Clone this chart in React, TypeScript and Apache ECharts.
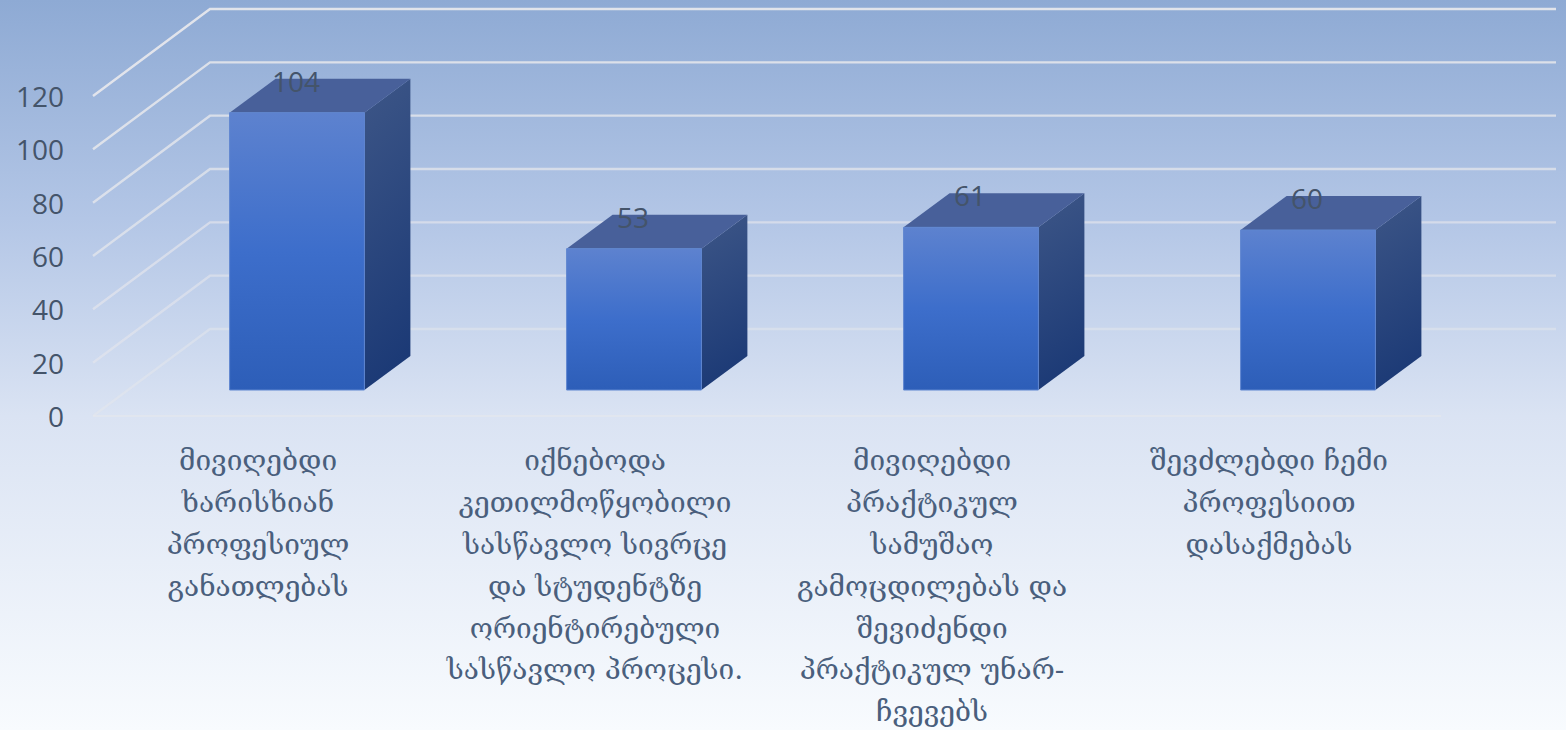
import React, { useEffect, useRef } from "react";
import * as echarts from "echarts";

const categories = [
  "მივიღებდი\nხარისხიან\nპროფესიულ\nგანათლებას",
  "იქნებოდა\nკეთილმოწყობილი\nსასწავლო სივრცე\nდა სტუდენტზე\nორიენტირებული\nსასწავლო პროცესი.",
  "მივიღებდი\nპრაქტიკულ\nსამუშაო\nგამოცდილებას და\nშევიძენდი\nპრაქტიკულ უნარ-\nჩვევებს",
  "შევძლებდი ჩემი\nპროფესიით\nდასაქმებას",
];
const values = [104, 53, 61, 60];
const gridValues = [0, 20, 40, 60, 80, 100, 120];

const TEXT = "#44546a";
const DEPTH_X = 46;
const DEPTH_Y = 34;
const WALL_X = 117;
const WALL_Y = 87;
const WALL_END = 1556;

const grad = (stops: [number, string][], x2 = 0, y2 = 1) => ({
  type: "linear", x: 0, y: 0, x2, y2,
  colorStops: stops.map(([offset, color]) => ({ offset, color })),
});

export default function App() {
  const ref = useRef<HTMLDivElement>(null);
  useEffect(() => {
    document.body.style.margin = "0";
    const chart = echarts.init(ref.current!, undefined, { renderer: "svg" });
    chart.setOption({
      animation: false,
      backgroundColor: grad([
        [0, "#8eaad4"],
        [0.3, "#b3c6e6"],
        [0.57, "#dae3f3"],
        [1, "#f8fbfe"],
      ]),
      grid: [
        { left: 93, width: 1348, top: 96, height: 320, outerBoundsMode: "none" },
        { left: 128.5, width: 1348, top: 70, height: 320, outerBoundsMode: "none" },
      ],
      xAxis: [
        {
          gridIndex: 0, type: "category", data: categories,
          axisLine: { show: false }, axisTick: { show: false }, splitLine: { show: false },
          axisLabel: {
            interval: 0, margin: 24, fontSize: 28, lineHeight: 41.8, color: "#4a5f7d",
            fontFamily: '"DejaVu Serif"', padding: [0, 7, 0, 0],
          },
        },
        {
          gridIndex: 1, type: "category", data: categories, show: false,
        },
      ],
      yAxis: [
        {
          gridIndex: 0, type: "value", min: 0, max: 120, interval: 20,
          axisLine: { show: false }, axisTick: { show: false }, splitLine: { show: false },
          axisLabel: { margin: 29, fontSize: 28, color: TEXT, fontFamily: '"Open Sans"' },
        },
        { gridIndex: 1, type: "value", min: 0, max: 120, interval: 20, show: false },
      ],
      series: [
        {
          type: "custom", xAxisIndex: 0, yAxisIndex: 0, z: 1, clip: false, silent: true,
          coordinateSystem: "cartesian2d",
          data: gridValues.map((v) => [0, v]),
          renderItem: (params: any, api: any) => {
            const y = api.coord([0, api.value(1)])[1];
            const x = params.coordSys.x;
            const v = api.value(1) as number;
            const alpha = 0.5 + (0.45 * v) / 120;
            const children: any[] = [
              {
                type: "polyline",
                shape: { points: [[x, y], [x + WALL_X, y - WALL_Y], [WALL_END, y - WALL_Y]] },
                style: { fill: "none", stroke: `rgba(230,231,236,${alpha})`, lineWidth: 2.4 },
              },
            ];
            if (v === 0) {
              children.push({
                type: "line",
                shape: { x1: x, y1: y, x2: x + params.coordSys.width, y2: y },
                style: { stroke: "rgba(230,231,236,0.6)", lineWidth: 2 },
              });
            }
            return { type: "group", children };
          },
        },
        {
          type: "custom", xAxisIndex: 1, yAxisIndex: 1, z: 2, clip: false, silent: true,
          coordinateSystem: "cartesian2d",
          data: values.map((v, i) => [i, v]),
          renderItem: (_params: any, api: any) => {
            const cat = api.value(0);
            const val = api.value(1);
            const top = api.coord([cat, val]);
            const base = api.coord([cat, 0]);
            const w = api.size([1, 0])[0] * 0.4;
            const l = top[0] - w / 2;
            const r = top[0] + w / 2;
            return {
              type: "group",
              children: [
                {
                  type: "polygon",
                  shape: { points: [[r, top[1]], [r + DEPTH_X, top[1] - DEPTH_Y], [r + DEPTH_X, base[1] - DEPTH_Y], [r, base[1]]] },
                  style: { fill: grad([[0, "#3d5687"], [1, "#1c3a76"]], 0.15, 1) },
                },
                {
                  type: "polygon",
                  shape: { points: [[l, top[1]], [l + DEPTH_X, top[1] - DEPTH_Y], [r + DEPTH_X, top[1] - DEPTH_Y], [r, top[1]]] },
                  style: { fill: "#48609a" },
                },
                {
                  type: "rect",
                  shape: { x: l, y: top[1], width: w, height: base[1] - top[1] },
                  style: {
                    fill: grad([[0, "#5d82cf"], [0.5, "#3d6ecb"], [1, "#2d5eb8"]]),
                    stroke: "#5f86d0", lineWidth: 1,
                  },
                },
                {
                  type: "text",
                  style: {
                    x: top[0] - 1, y: top[1] - 32, text: String(val),
                    fill: TEXT, fontSize: 28, fontFamily: '"Open Sans"',
                    align: "center", verticalAlign: "middle",
                  },
                },
              ],
            };
          },
        },
      ],
    });
    return () => chart.dispose();
  }, []);
  return <div ref={ref} style={{ width: 1566, height: 730 }} />;
}
